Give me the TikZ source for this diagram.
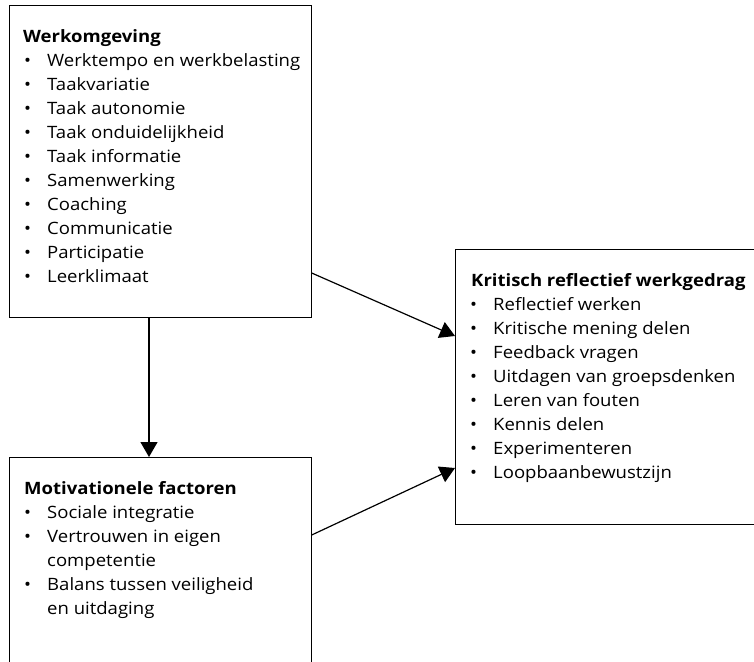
\documentclass[tikz,border=0pt]{standalone}
\usepackage{fontspec}
\setmainfont{Open Sans}[FakeStretch=1.09]
\usetikzlibrary{arrows.meta,calc}
\tikzset{
  box/.style={draw=black,line width=1.2pt,rectangle,inner sep=0pt,anchor=north west,fill=none},
  head/.style={anchor=base west,inner sep=0pt,font=\fontsize{17}{20}\selectfont\bfseries},
  item/.style={anchor=base west,inner sep=0pt,font=\fontsize{17}{20}\selectfont},
  bul/.style={anchor=base,inner sep=0pt,font=\fontsize{17}{20}\selectfont},
  conn/.style={line width=1.2pt,-{Triangle[length=15pt,width=17pt]}}
}
\begin{document}
\begin{tikzpicture}[x={(1pt,0pt)},y={(0pt,-1pt)}]
\useasboundingbox (0,0) rectangle (754,661);
\clip (0,0) rectangle (754,661);
% boxes
\node[box,minimum width=301.5pt,minimum height=311.5pt] (b1) at (9,5) {};
\node[box,minimum width=301.5pt,minimum height=233pt] (b2) at (9,457) {};
\node[box,minimum width=315pt,minimum height=275pt] (b3) at (455,249) {};
% box 1 text
\node[head] (h1) at (23,42.5) {Werkomgeving};
\foreach \t [count=\i] in {Werktempo en werkbelasting,Taakvariatie,Taak autonomie,Taak onduidelijkheid,Taak informatie,Samenwerking,Coaching,Communicatie,Participatie,Leerklimaat}{
  \node[bul] (p1b\i) at (27.5,42.5+\i*23.95) {\textbullet};
  \node[item] (p1t\i) at (47,42.5+\i*23.95) {\t};
}
% box 3 text
\node[head] (h3) at (471,286) {Kritisch reflectief werkgedrag};
\foreach \t [count=\i] in {Reflectief werken,Kritische mening delen,Feedback vragen,Uitdagen van groepsdenken,Leren van fouten,Kennis delen,Experimenteren,Loopbaanbewustzijn}{
  \node[bul] (p3b\i) at (473.5,286+\i*24) {\textbullet};
  \node[item] (p3t\i) at (493,286+\i*24) {\t};
}
% box 2 text
\node[head] (h2) at (24,494) {Motivationele factoren};
\node[bul] (p2b1) at (27.5,518) {\textbullet};
\node[item] (p2t1) at (47,518) {Sociale integratie};
\node[bul] (p2b2) at (27.5,542) {\textbullet};
\node[item] (p2t2) at (47,542) {Vertrouwen in eigen};
\node[item] (p2t3) at (47,566) {competentie};
\node[bul] (p2b3) at (27.5,590) {\textbullet};
\node[item] (p2t4) at (47,590) {Balans tussen veiligheid};
\node[item] (p2t5) at (47,614) {en uitdaging};
% connectors
\draw[conn] ($(b1.south west)+(140,0)$) -- ($(b2.north west)+(140,0)$);
\draw[conn] ($(b1.north east)+(0,268)$) -- ($(b3.north west)+(0,87)$);
\draw[conn] ($(b2.north east)+(0,78)$) -- ($(b3.north west)+(0,219)$);
\end{tikzpicture}
\end{document}
